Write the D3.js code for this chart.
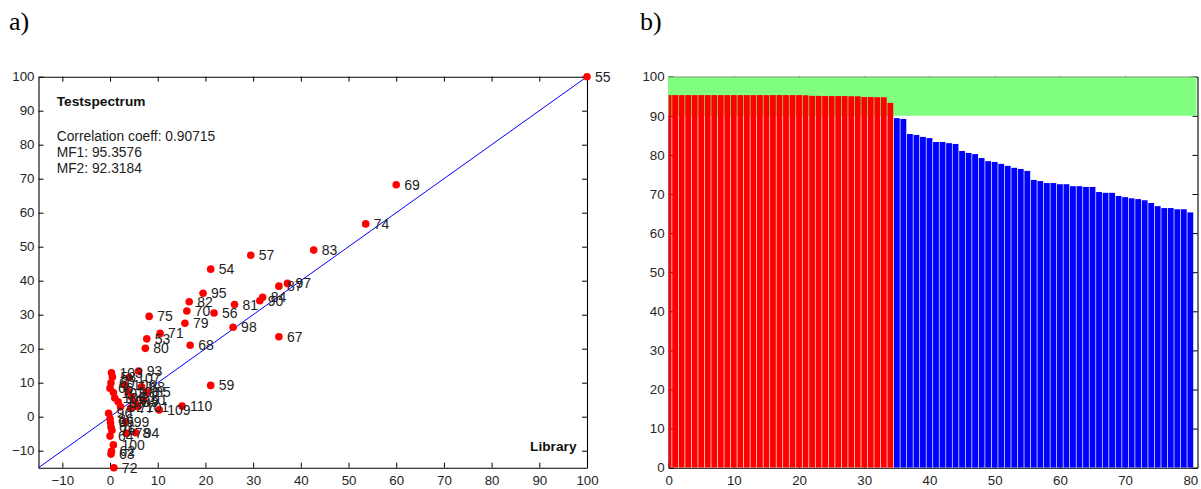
<!DOCTYPE html>
<html>
<head>
<meta charset="utf-8">
<script src="https://cdn.jsdelivr.net/npm/d3@7"></script>
<style>
  html, body { margin: 0; padding: 0; background: #fff; }
  svg { display: block; }
  text { font-family: "Liberation Sans", Arial, sans-serif; }
</style>
</head>
<body>
<script>
// ---------- Data: panel a (scatter) ----------
const scatterLabels = [55,69,74,83,57,54,97,87,84,90,81,95,82,70,56,75,79,98,71,53,80,68,67,59,110,109,72,
  103,93,107,58,60,66,102,104,105,106,108,73,89,88,85,91,92,77,101,
  96,86,65,99,61,76,78,94,64,100,62,63];
const libraryValues = [100,60.0,53.6,42.7,29.5,21.1,37.2,35.4,32.0,31.4,26.1,19.5,16.6,16.1,21.8,8.2,15.7,25.8,10.5,7.7,7.4,16.8,35.4,21.1,15.1,10.3,0.8,
  0.3,6.0,4.0,0.5,0.2,0.0,0.7,1.0,1.7,3.1,3.8,4.5,5.2,6.6,7.8,7.1,2.2,4.3,5.8,
  -0.3,0.0,0.1,3.3,0.2,0.4,3.5,5.4,0.0,0.7,0.3,0.2];
const testValues = [100,68.2,56.7,49.0,47.5,43.4,39.2,38.4,35.1,34.1,33.0,36.3,33.8,31.1,30.5,29.5,27.5,26.3,24.5,22.9,20.1,21.0,23.5,9.2,3.1,2.0,-15.0,
  12.9,13.4,11.5,11.7,10.0,8.4,7.1,5.5,4.4,9.3,7.4,5.9,4.4,8.8,7.2,4.9,2.9,2.5,3.0,
  1.0,-0.6,-1.7,-1.5,-3.0,-4.0,-4.9,-4.7,-5.7,-8.3,-10.2,-11.0];
const scatterTicks = [-10,0,10,20,30,40,50,60,70,80,90,100];
const infoTitle = "Testspectrum";
const infoLines = ["Correlation coeff: 0.90715", "MF1: 95.3576", "MF2: 92.3184"];
const xAxisTitle = "Library";

// ---------- Data: panel b (bars) ----------
const barIndex = d3.range(0, 81);
const barValues = [
  95.3,95.3,95.3,95.3,95.3,95.3,95.3,95.3,95.3,95.3,
  95.3,95.3,95.3,95.3,95.3,95.3,95.3,95.3,95.3,95.3,
  95.3,95.25,95.1,95.1,95.05,95.05,95.05,95.05,95.0,95.0,
  94.8,94.8,94.75,94.75,93.3,89.4,89.2,85.35,85.1,84.6,
  84.3,83.3,83.3,83.0,82.8,81.0,80.5,80.2,79.2,78.4,
  78.2,77.7,77.2,76.7,76.4,75.9,73.6,73.3,72.8,72.8,
  72.5,72.5,72.0,72.0,71.8,71.8,70.5,70.3,70.3,69.5,
  69.2,68.9,68.7,68.4,67.7,66.9,66.4,66.4,66.1,66.1,65.3];
const threshold = 90;
const barYTicks = [0,10,20,30,40,50,60,70,80,90,100];
const barXTicks = [0,10,20,30,40,50,60,70,80];

const W = 1201, H = 489;
const svg = d3.select("body").append("svg").attr("width", W).attr("height", H);

// panel letters
svg.append("text").attr("x", 9).attr("y", 30).style("font-family", "'Liberation Serif', 'Times New Roman', serif")
  .style("font-size", "26px").attr("fill", "#000").text("a)");
svg.append("text").attr("x", 640).attr("y", 30).style("font-family", "'Liberation Serif', 'Times New Roman', serif")
  .style("font-size", "26px").attr("fill", "#000").text("b)");

function styleAxis(g) {
  g.selectAll("path.domain").attr("stroke", "#000").attr("stroke-width", 1.1);
  g.selectAll(".tick line").attr("stroke", "#000").attr("stroke-width", 1);
  g.selectAll("text").style("font-size", "13.3px").attr("fill", "#262626")
    .style("font-family", "'Liberation Sans', Arial, sans-serif");
}

// ================= Panel a =================
const ax = d3.scaleLinear().domain([-15, 100]).range([38.5, 587]);
const ay = d3.scaleLinear().domain([-15, 100]).range([467.7, 76.7]);
const A = svg.append("g");

A.append("g").attr("transform", `translate(0,${ay(-15)})`)
  .call(d3.axisBottom(ax).tickValues(scatterTicks).tickSizeInner(-5).tickSizeOuter(0).tickPadding(8)).call(styleAxis);
A.append("g").attr("transform", `translate(0,${ay(100)})`)
  .call(d3.axisTop(ax).tickValues(scatterTicks).tickFormat("").tickSizeInner(-5).tickSizeOuter(0)).call(styleAxis);
A.append("g").attr("transform", `translate(${ax(-15)},0)`)
  .call(d3.axisLeft(ay).tickValues(scatterTicks).tickSizeInner(-5).tickSizeOuter(0).tickPadding(4)).call(styleAxis);
A.append("g").attr("transform", `translate(${ax(100)},0)`)
  .call(d3.axisRight(ay).tickValues(scatterTicks).tickFormat("").tickSizeInner(-5).tickSizeOuter(0)).call(styleAxis);

// identity line
A.append("line").attr("x1", ax(-15)).attr("y1", ay(-15)).attr("x2", ax(100)).attr("y2", ay(100))
  .attr("stroke", "#0000ff").attr("stroke-width", 1);

const pts = scatterLabels.map((l, i) => ({ label: l, x: libraryValues[i], y: testValues[i] }));
A.append("g").selectAll("circle").data(pts).join("circle")
  .attr("cx", d => ax(d.x)).attr("cy", d => ay(d.y)).attr("r", 3.8).attr("fill", "#ff0000");
A.append("g").selectAll("text").data(pts).join("text")
  .attr("x", d => ax(d.x) + 8).attr("y", d => ay(d.y) + 5)
  .style("font-size", "14px").attr("fill", "#222").text(d => d.label);

A.append("text").attr("x", 56.7).attr("y", 105.7).style("font-size", "13.7px").style("font-weight", "bold")
  .attr("fill", "#111").text(infoTitle);
A.append("g").selectAll("text").data(infoLines).join("text")
  .attr("x", 56.7).attr("y", (d, i) => 141 + i * 16.2)
  .style("font-size", "13.8px").attr("fill", "#222").text(d => d);
A.append("text").attr("x", 576.5).attr("y", 450.5).attr("text-anchor", "end")
  .style("font-size", "13.7px").style("font-weight", "bold").attr("fill", "#111").text(xAxisTitle);

// ================= Panel b =================
const bx = d3.scaleLinear().domain([0, 81.1]).range([668.6, 1197.5]);
const by = d3.scaleLinear().domain([0, 100]).range([467.7, 76.7]);
const B = svg.append("g");

B.append("defs").append("clipPath").attr("id", "bclip").append("rect")
  .attr("x", bx(0)).attr("y", by(100)).attr("width", bx(81.1) - bx(0)).attr("height", by(0) - by(100));

B.append("g").attr("transform", `translate(0,${by(0)})`)
  .call(d3.axisBottom(bx).tickValues(barXTicks).tickSizeInner(-5).tickSizeOuter(0).tickPadding(8)).call(styleAxis);
B.append("g").attr("transform", `translate(0,${by(100)})`)
  .call(d3.axisTop(bx).tickValues(barXTicks).tickFormat("").tickSizeInner(-5).tickSizeOuter(0)).call(styleAxis);
B.append("g").attr("transform", `translate(${bx(0)},0)`)
  .call(d3.axisLeft(by).tickValues(barYTicks).tickSizeInner(-5).tickSizeOuter(0).tickPadding(4)).call(styleAxis);
B.append("g").attr("transform", `translate(${bx(81.1)},0)`)
  .call(d3.axisRight(by).tickValues(barYTicks).tickFormat("").tickSizeInner(-5).tickSizeOuter(0)).call(styleAxis);

// threshold band
B.append("rect").attr("x", bx(0) - 0.5).attr("y", by(100) + 0.5)
  .attr("width", bx(81.1) - bx(0) - 0.5).attr("height", by(threshold) - by(100) - 0.5)
  .attr("fill", "#80ff80");

// bars: adjacent (width 1), thin light seams between them
const bars = barIndex.map((c, i) => ({ c, v: barValues[i] }));
B.append("g").attr("clip-path", "url(#bclip)").selectAll("rect").data(bars).join("rect")
  .attr("x", d => bx(d.c - 0.5) + 0.35)
  .attr("width", d => bx(d.c + 0.5) - bx(d.c - 0.5) - 0.7)
  .attr("y", d => by(d.v)).attr("height", d => by(0) - by(d.v))
  .attr("fill", d => d.v >= threshold ? "#ff0000" : "#0000ff");
</script>
</body>
</html>
